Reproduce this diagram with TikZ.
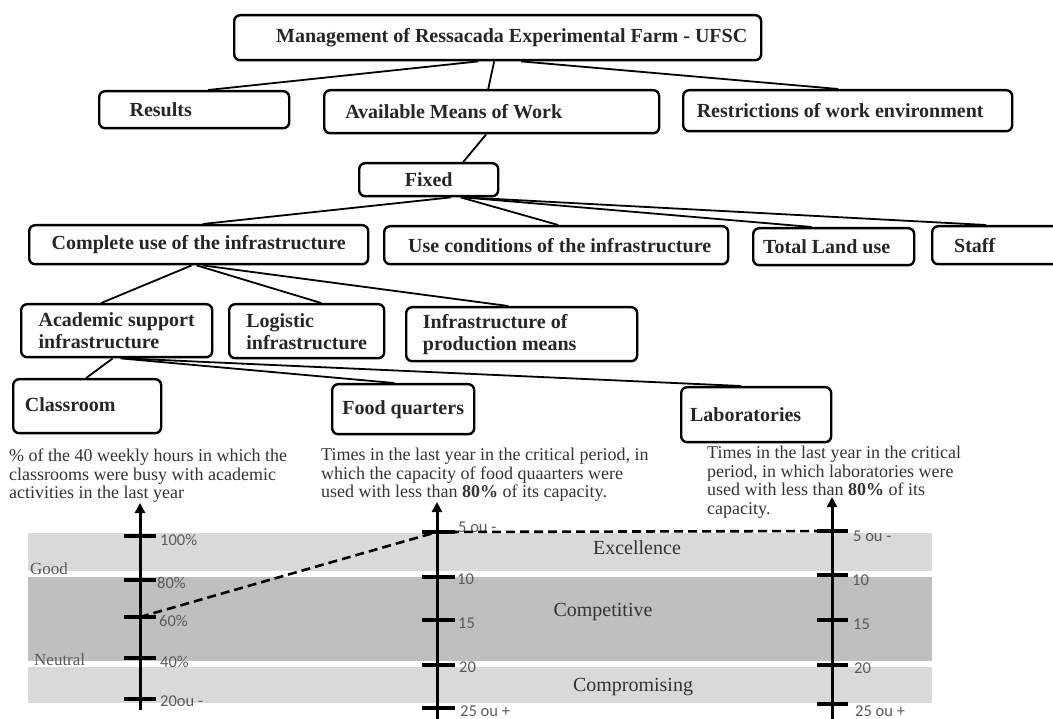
\documentclass[tikz,border=0pt]{standalone}
\usepackage{fontspec}
\setmainfont{Liberation Serif}
\newfontfamily\ticklblfont{Carlito}
\usetikzlibrary{arrows.meta}
\definecolor{bandlight}{HTML}{D9D9D9}
\definecolor{banddark}{HTML}{BFBFBF}
\definecolor{boxtext}{HTML}{262626}
\definecolor{desctext}{HTML}{333333}
\definecolor{ticktext}{HTML}{5A5A5A}
\tikzset{
  box/.style={draw=black, line width=2.4pt, rounded corners=6pt, anchor=north west,
    inner xsep=2pt, inner ysep=0pt, font=\fontsize{20}{22}\selectfont\bfseries,
    text=boxtext, align=left},
  link/.style={line width=1.8pt, black},
  axisline/.style={line width=3pt, -{Triangle[width=10pt,length=10pt]}},
  tickline/.style={line width=3.2pt},
  ticklbl/.style={anchor=west, font=\ticklblfont\fontsize{16.5}{16.5}\selectfont, text=ticktext, inner sep=0pt},
  desc/.style={anchor=north west, align=left, font=\fontsize{18}{18.5}\selectfont, text=desctext, inner sep=0pt},
  bandlbl/.style={font=\fontsize{20}{20}\selectfont, text=desctext, inner sep=0pt},
  sidelbl/.style={anchor=west, font=\fontsize{17}{17}\selectfont, text=ticktext, inner sep=0pt},
  dashlink/.style={line width=2.6pt, dash pattern=on 9pt off 5pt},
}
\begin{document}
\begin{tikzpicture}[x=1pt,y=-1pt]
\useasboundingbox (0,0) rectangle (1053,719);

% ---------- tree boxes ----------
\node[box, minimum width=527pt, minimum height=45pt] (mgmt) at (233,14)
  {\rule{28pt}{0pt}Management of Ressacada Experimental Farm - UFSC};
\node[box, minimum width=190pt, minimum height=37pt] (results) at (98,90)
  {Results\rule{67pt}{0pt}};
\node[box, minimum width=335pt, minimum height=43pt] (avail) at (323,89)
  {Available Means of Work\rule{76pt}{0pt}};
\node[box, minimum width=329pt, minimum height=41pt] (restr) at (682,89)
  {Restrictions of work environment\rule{15pt}{0pt}};
\node[box, minimum width=139pt, minimum height=33pt] (fixed) at (358,162)
  {Fixed};
\node[box, minimum width=339pt, minimum height=39pt] (complete) at (28,224)
  {Complete use of the infrastructure};
\node[box, minimum width=344pt, minimum height=38pt] (usecond) at (383,225)
  {\rule{7pt}{0pt}Use conditions of the infrastructure};
\node[box, minimum width=161pt, minimum height=37pt] (land) at (752,227)
  {Total Land use\rule{14pt}{0pt}};
\node[box, minimum width=144pt, minimum height=38pt] (staff) at (931,225)
  {Staff\rule{59pt}{0pt}};
\node[box, minimum width=191pt, minimum height=53pt] (academic) at (20,303)
  {Academic support\\infrastructure};
\node[box, minimum width=155pt, minimum height=54pt] (logistic) at (228,303)
  {Logistic\\infrastructure};
\node[box, minimum width=231pt, minimum height=54pt] (infraprod) at (405,306)
  {Infrastructure of\\production means\rule{44pt}{0pt}};
\node[box, minimum width=148pt, minimum height=54pt] (classroom) at (12,378)
  {\raisebox{3pt}{Classroom}\rule{34pt}{0pt}};
\node[box, minimum width=142pt, minimum height=50pt] (food) at (331,383)
  {Food quarters};
\node[box, minimum width=150pt, minimum height=55pt] (labs) at (680,386)
  {Laboratories\rule{21pt}{0pt}};

% ---------- tree connectors ----------
\draw[link] ([xshift=-19.5pt]mgmt.south) -- ([xshift=14pt]results.north);
\draw[link] ([xshift=-3.5pt]mgmt.south) -- ([xshift=-3.5pt]avail.north);
\draw[link] ([xshift=23.5pt]mgmt.south) -- ([xshift=-9.5pt]restr.north);
\draw[link] ([xshift=-5.5pt]avail.south) -- ([xshift=34.5pt]fixed.north);
\draw[link] ([xshift=22pt]fixed.south) -- ([xshift=4pt]complete.north);
\draw[link] ([xshift=32pt]fixed.south) -- ([xshift=2pt]usecond.north);
\draw[link] ([xshift=35pt]fixed.south) -- ([xshift=-22pt]land.north);
\draw[link] ([xshift=37pt]fixed.south) -- ([xshift=-18pt]staff.north);
\draw[link] ([xshift=-7pt]complete.south) -- ([xshift=-15.5pt]academic.north);
\draw[link] ([xshift=-2pt]complete.south) -- ([xshift=14.5pt]logistic.north);
\draw[link] ([xshift=4pt]complete.south) -- ([xshift=-13.5pt]infraprod.north);
\draw[link] ([xshift=-4pt]academic.south) -- ([xshift=-1pt]classroom.north);
\draw[link] ([xshift=4pt]academic.south) -- ([xshift=-9pt]food.north);
\draw[link] ([xshift=9pt]academic.south) -- ([xshift=-15pt]labs.north);

% ---------- descriptions ----------
\node[desc] (d1) at (9,449)
  {\% of the 40 weekly hours in which the\\classrooms were busy with academic\\activities in the last year};
\node[desc] (d2) at (321,448)
  {Times in the last year in the critical period, in\\which the capacity of food quaarters were\\used with less than \textbf{80\%} of its capacity.};
\node[desc] (d3) at (707,446)
  {Times in the last year in the critical\\period, in which laboratories were\\used with less than \textbf{80\%} of its\\capacity.};

% ---------- bands ----------
\fill[bandlight] (28,533) rectangle (932,571);
\fill[banddark]  (28,577) rectangle (932,661);
\fill[bandlight] (28,667) rectangle (932,703);
\node[bandlbl] (excel) at (637,548) {Excellence};
\node[bandlbl] (compet) at (603,612) {Competitive};
\node[bandlbl] (compro) at (633,687) {Compromising};
\node[sidelbl] (good) at (30,569) {Good};
\node[sidelbl] (neutral) at (34,660) {Neutral};

% ---------- axes ----------
\coordinate (a1b) at (140,710); \coordinate (a1t) at (140,503);
\coordinate (a2b) at (437,725); \coordinate (a2t) at (437,502);
\coordinate (a3b) at (832,725); \coordinate (a3t) at (832,497);
\draw[axisline] (a1b) -- (a1t);
\draw[axisline] (a2b) -- (a2t);
\draw[axisline] (a3b) -- (a3t);
\foreach \yy in {536,580,617,658,699} \draw[tickline] (124,\yy) -- (156,\yy);
\foreach \yy in {532,577,620,665,708} \draw[tickline] (422,\yy) -- (455,\yy);
\foreach \yy in {531,575,620,665,704} \draw[tickline] (817,\yy) -- (848,\yy);

\node[ticklbl] (t1a) at (160,540) {100\%};
\node[ticklbl] (t1b) at (157,583) {80\%};
\node[ticklbl] (t1c) at (159,621) {60\%};
\node[ticklbl] (t1d) at (160,662) {40\%};
\node[ticklbl] (t1e) at (160,701) {20ou -};
\node[ticklbl] (t2a) at (458,527) {5 ou -};
\node[ticklbl] (t2b) at (457,579) {10};
\node[ticklbl] (t2c) at (458,623) {15};
\node[ticklbl] (t2d) at (459,667) {20};
\node[ticklbl] (t2e) at (460,711) {25 ou +};
\node[ticklbl] (t3a) at (853,536) {5 ou -};
\node[ticklbl] (t3b) at (852,580) {10};
\node[ticklbl] (t3c) at (853,624) {15};
\node[ticklbl] (t3d) at (854,668) {20};
\node[ticklbl] (t3e) at (855,711) {25 ou +};

% ---------- dashed path ----------
\coordinate (p60) at (140,617);
\coordinate (p5a) at (437,532);
\coordinate (p5b) at (830,531);
\draw[dashlink] (p60) -- (p5a) -- (p5b);
\end{tikzpicture}
\end{document}
